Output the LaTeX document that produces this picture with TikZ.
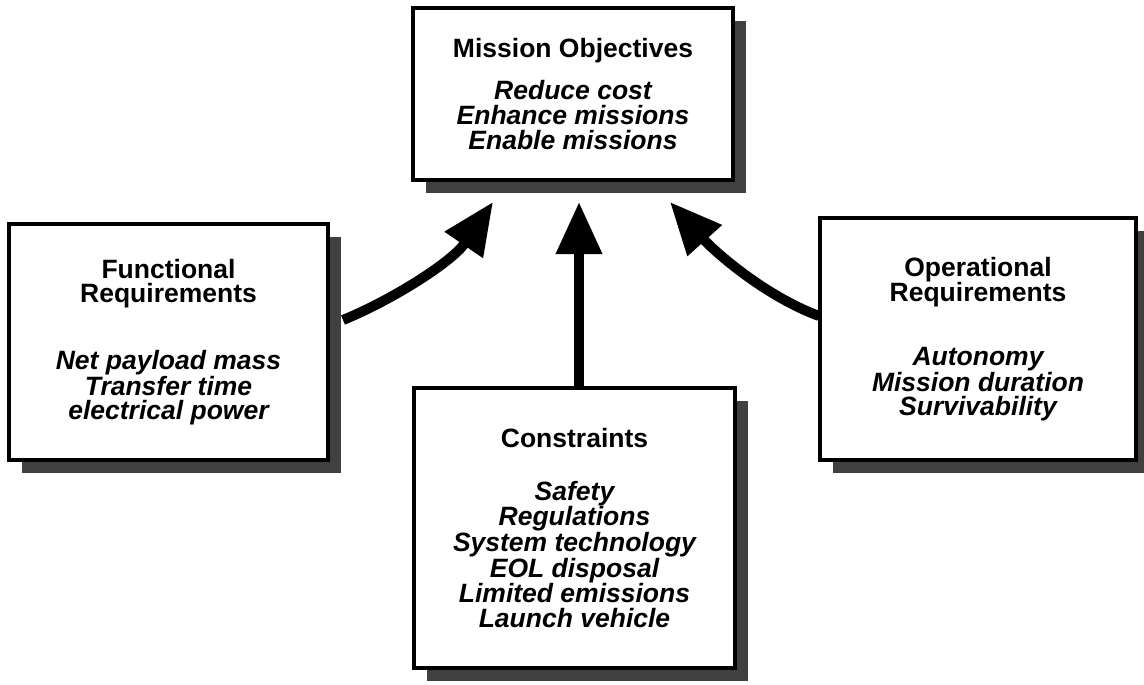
\documentclass[tikz,border=0pt]{standalone}
\usepackage{fontspec}
\setmainfont{Liberation Sans}
\usetikzlibrary{arrows.meta,shadows}
\begin{document}
\begin{tikzpicture}[x=1pt,y=-1pt,
  box/.style={draw, line width=4pt, fill=white, inner sep=0pt, outer sep=0pt,
    align=center,
    drop shadow={shadow xshift=13pt, shadow yshift=-13pt, fill=black!75, opacity=1}},
  conn/.style={line width=10pt, -{Triangle[length=52pt,width=44pt]}}]
\useasboundingbox (0,0) rectangle (1144,685);

\node[box, minimum width=320pt, minimum height=172pt,
  font=\fontsize{26.5}{25}\selectfont\bfseries\itshape] (mission) at (573,94)
  {{\upshape Mission Objectives}\\[17pt] Reduce cost\\ Enhance missions\\ Enable missions};

\node[box, minimum width=319pt, minimum height=236pt,
  font=\fontsize{26.5}{24}\selectfont\bfseries\itshape] (func) at (168.5,342)
  {{\upshape Functional}\\ {\upshape Requirements}\\[41pt] Net payload mass\\ Transfer time\\ electrical power};

\node[box, minimum width=321pt, minimum height=280pt,
  font=\fontsize{26.5}{24.2}\selectfont\bfseries\itshape] (cons) at (574.5,528)
  {{\upshape Constraints}\\[28pt] Safety\\ Regulations\\ System technology\\ EOL disposal\\ Limited emissions\\ Launch vehicle};

\node[box, minimum width=316pt, minimum height=242pt,
  font=\fontsize{26.5}{24.5}\selectfont\bfseries\itshape] (oper) at (978,339)
  {{\upshape Operational}\\ {\upshape Requirements}\\[39pt] Autonomy\\ Mission duration\\ Survivability};

\coordinate (tipL) at (493,202);
\coordinate (tipM) at (579,202);
\coordinate (tipR) at (670,202);

\draw[conn] ([xshift=15pt,yshift=22pt]func.east) .. controls (392,300) and (452,262) .. (tipL);
\draw[conn] ([xshift=4.5pt]cons.north) -- (tipM);
\draw[conn] ([xshift=-1pt,yshift=23pt]oper.west) .. controls (765,296) and (715,252) .. (tipR);
\end{tikzpicture}
\end{document}
